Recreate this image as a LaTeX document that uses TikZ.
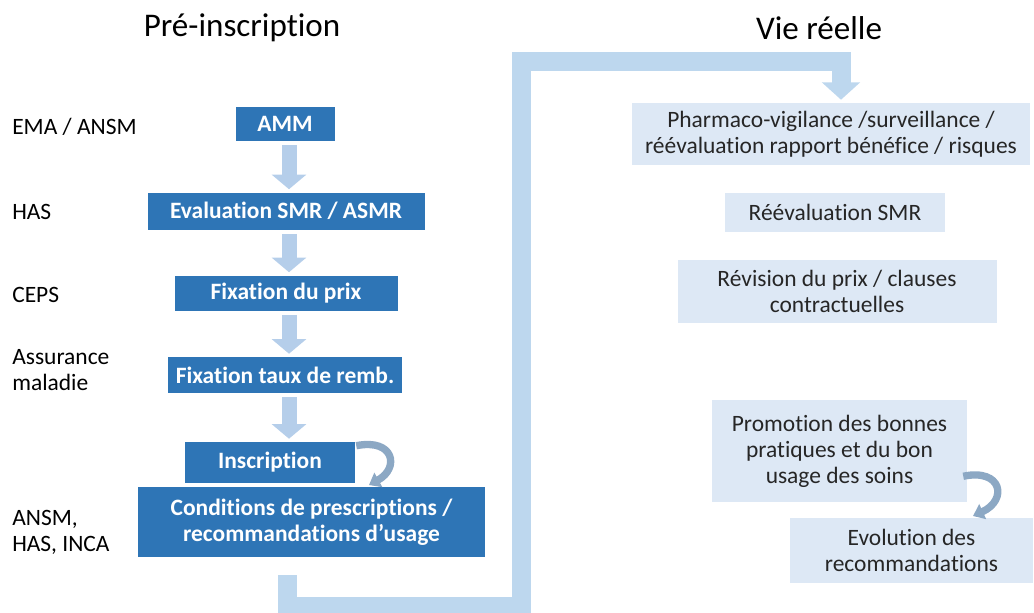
\documentclass[tikz,border=0pt]{standalone}
\usepackage{fontspec}
\setmainfont{Carlito}[Ligatures=NoCommon]
\usetikzlibrary{arrows.meta}

\newlength{\pxu}
\setlength{\pxu}{0.75pt}
\newcommand{\bodyfont}{\fontsize{17.6}{19.5}\selectfont}
\newcommand{\titlefont}{\fontsize{24.8}{28}\selectfont}

\definecolor{boxblue}{RGB}{46,117,182}
\definecolor{arrowblue}{RGB}{181,206,234}
\definecolor{loopblue}{RGB}{189,215,238}
\definecolor{paleblue}{RGB}{221,232,245}
\definecolor{curveblue}{RGB}{140,168,196}
\definecolor{textgray}{RGB}{38,38,38}

\begin{document}
\begin{tikzpicture}[
  x=0.75pt, y=-0.75pt,
  box_size/.style 2 args={
    minimum width=#1\pxu, minimum height=#2\pxu
  },
  dark_box/.style={
    fill=boxblue, text=white, font=\bodyfont\bfseries,
    inner sep=0pt, align=center
  },
  pale_box/.style={
    fill=paleblue, text=textgray, font=\bodyfont,
    inner sep=0pt, align=center
  },
  actor_label/.style={
    anchor=west, font=\bodyfont, align=left, inner sep=0pt
  },
  title_label/.style={
    font=\titlefont, inner sep=0pt
  },
  down_arrow/.style={
    draw=arrowblue, line width=11.25pt,
    -{Triangle[width=25.5pt,length=11pt]}
  },
  loop_arrow/.style={
    draw=loopblue, line width=14.25pt, line join=miter,
    -{Triangle[width=28pt,length=13pt]}
  },
  curve_arrow/.style={
    draw=curveblue, line width=5.5pt,
    -{Triangle[width=12pt,length=8pt]}
  }]
  \useasboundingbox (0,0) rectangle (1034,613);
  %
  \node[title_label] (t_pre) at (242,28) {Pré-inscription};
  \node[title_label] (t_vie) at (819,28) {Vie réelle};
  %
  \node[actor_label] (a_ema) at (12,127) {EMA / ANSM};
  \node[actor_label] (a_has) at (12,212) {HAS};
  \node[actor_label] (a_ceps) at (12,295) {CEPS};
  \node[actor_label] (a_am) at (12,370) {Assurance\\maladie};
  \node[actor_label] (a_ansm) at (12,532) {ANSM,\\HAS, INCA};
  %
  \node[dark_box,box_size={99}{34}] (amm) at (285,124) {AMM};
  \node[dark_box,box_size={277}{37}] (eval) at (286,211) {Evaluation SMR / ASMR};
  \node[dark_box,box_size={223}{35}] (prix) at (286,293) {Fixation du prix};
  \node[dark_box,box_size={234}{36}] (taux) at (285,375) {Fixation taux de remb.};
  \node[dark_box,box_size={170}{41}] (insc) at (270,462.5) {Inscription};
  \node[dark_box,box_size={347}{70}] (cond) at (311.5,522)
    {Conditions de prescriptions /\\recommandations d’usage};
  %
  \coordinate (arr_x) at (289,0);
  \foreach \a/\b in {amm/eval,eval/prix,prix/taux,taux/insc} {
    \draw[down_arrow,shorten <=4\pxu,shorten >=3\pxu]
      (\a.south -| arr_x) -- (\b.north -| arr_x);
  }
  %
  \node[pale_box,box_size={398}{62}] (pharma) at (831,134)
    {Pharmaco-vigilance /surveillance /\\réévaluation rapport bénéfice / risques};
  \node[pale_box,box_size={220}{39}] (reeval) at (835,212.5) {Réévaluation SMR};
  \node[pale_box,box_size={319}{63}] (revis) at (837,291)
    {Révision du prix / clauses\\contractuelles};
  \node[pale_box,box_size={255}{102}] (promo) at (839.5,451)
    {Promotion des bonnes\\pratiques et du bon\\usage des soins};
  \node[pale_box,box_size={243}{65}] (evol) at (911.5,550)
    {Evolution des\\recommandations};
  %
  \draw[loop_arrow,shorten >=3\pxu]
    ([xshift=-24.5\pxu,yshift=-18\pxu]cond.south) -- ++(0,31) -| (521,62)
    -| ([xshift=10\pxu]pharma.north);
  %
  \coordinate (insc_tip) at (369,485);
  \draw[curve_arrow] ([xshift=1\pxu,yshift=-4\pxu]insc.north east)
    .. controls (394,438) and (400,468) .. (insc_tip);
  \coordinate (promo_tip) at (973,516);
  \draw[curve_arrow] ([xshift=-4\pxu,yshift=26\pxu]promo.south east)
    .. controls (1002,468) and (1008,500) .. (promo_tip);
\end{tikzpicture}
\end{document}
